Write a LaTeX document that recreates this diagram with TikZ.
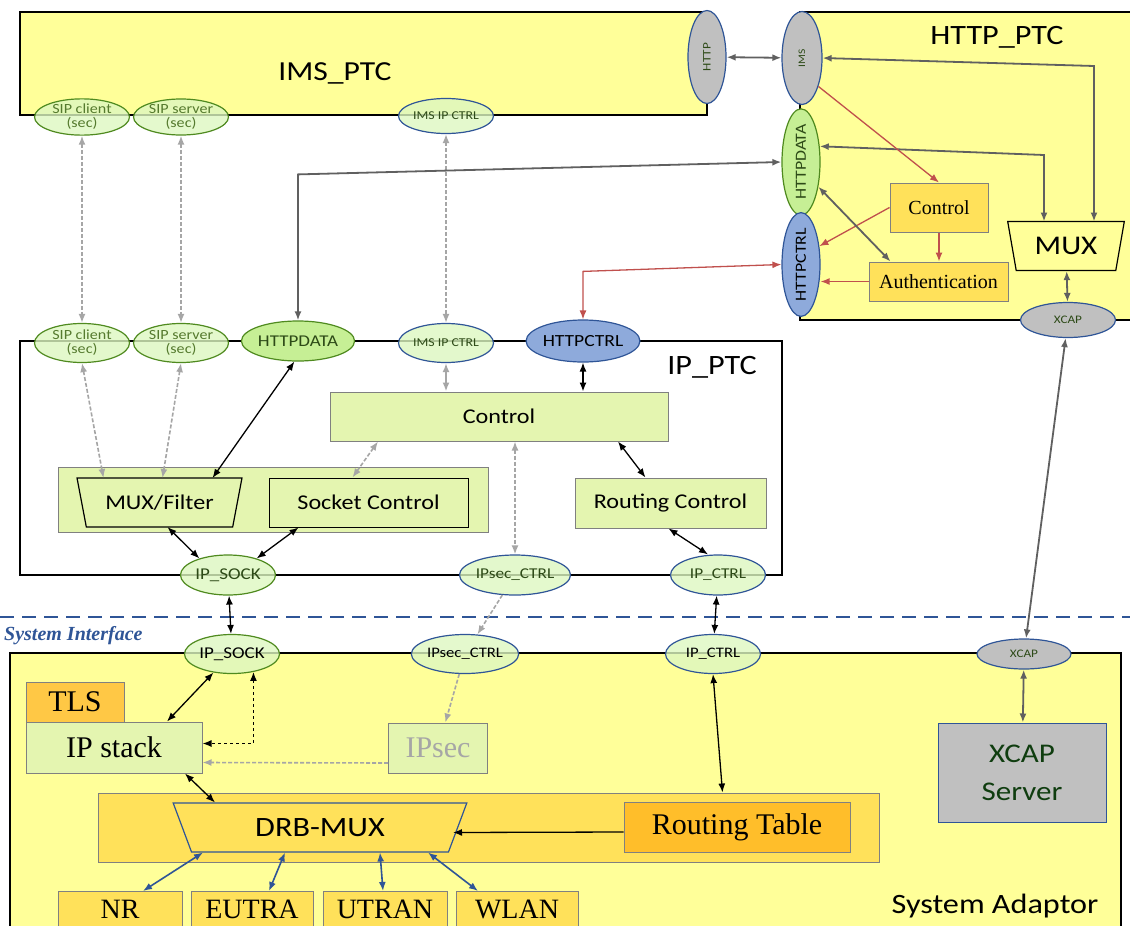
\documentclass[tikz,border=0pt]{standalone}
\usepackage{fontspec}
\setmainfont[FakeStretch=1.15]{Carlito}
\newfontfamily\timesfont{Liberation Serif}
\usetikzlibrary{shapes.geometric,arrows.meta}

\definecolor{boxyellow}{HTML}{FFFF99}
\definecolor{lgreen}{HTML}{E4F5B0}
\definecolor{ifgreen}{HTML}{DDF7C0}
\definecolor{datagreen}{HTML}{C6EF95}
\definecolor{gborder}{HTML}{4F8A1F}
\definecolor{bborder}{HTML}{2F5597}
\definecolor{ctrlblue}{HTML}{8EAADB}
\definecolor{gold}{HTML}{FFE15A}
\definecolor{tlsorange}{HTML}{FFC845}
\definecolor{rtorange}{HTML}{FFBE2A}
\definecolor{xgrey}{HTML}{C0C0C0}
\definecolor{redarr}{HTML}{C0504D}
\definecolor{darkarr}{HTML}{606060}
\definecolor{lightarr}{HTML}{A6A6A6}
\definecolor{txtgreen}{HTML}{2D4A17}
\definecolor{sipgreen}{HTML}{557A2E}
\definecolor{srvgreen}{HTML}{0F3D0F}

\newcommand\setfs[1]{\fontsize{#1}{#1}\selectfont}

\tikzset{
  frame/.style={draw=black, line width=2pt, fill=boxyellow},
  port/.style={ellipse, draw=gborder, line width=1.2pt, fill=ifgreen, fill opacity=0.8, text opacity=1,
    inner sep=0pt, minimum width=95pt, minimum height=38pt, text=txtgreen, font=\setfs{12}, align=center},
  bport/.style={port, draw=bborder},
  vport/.style={ellipse, draw=bborder, line width=1.2pt, fill=xgrey, inner sep=0pt,
    minimum width=38pt, minimum height=93pt, text=txtgreen},
  blk/.style={draw=gray, line width=1pt, fill=lgreen, inner sep=0pt},
  gblk/.style={blk, fill=gold, font=\timesfont\setfs{20}},
  tblk/.style={blk, fill=gold, font=\timesfont\setfs{28}, anchor=north, minimum height=36pt},
  trap/.style={trapezium, shape border rotate=180, trapezium stretches=true, inner sep=0pt, line width=1.2pt},
  dgline/.style={draw=darkarr, line width=1.8pt, <->},
  redline/.style={draw=redarr, line width=1.3pt, ->},
  bkline/.style={draw=black, line width=1.3pt, <->},
  ltline/.style={draw=lightarr, line width=1.6pt, dash pattern=on 4pt off 2pt, <->},
  gsolid/.style={draw=lightarr, line width=2pt, <->},
  blline/.style={draw=bborder, line width=1.6pt, <->}
}

\begin{document}
\begin{tikzpicture}[x=1pt, y=-1pt, >={Latex[length=9pt,width=7pt]}]
\useasboundingbox (0,0) rectangle (1130,926);

% frames
\draw[frame] (20,12) rectangle (707,115);
\node[font=\setfs{27.5}] (imsttl) at (335,73) {IMS\_PTC};
\draw[frame] (800,12) rectangle (1145,320);
\node[font=\setfs{28}] (httpttl) at (997,37) {HTTP\_PTC};
\draw[frame, fill=white] (20,341) rectangle (782,575);
\node[font=\setfs{28}] (ipttl) at (712,367) {IP\_PTC};
\draw[frame, line width=1.6pt] (10,653) rectangle (1121,950);
\node[font=\setfs{28}] (systtl) at (995,906) {System Adaptor};

\draw[bborder, line width=2.5pt, dash pattern=on 14pt off 8pt] (0,617) -- (1130,617);
\node[anchor=west, inner sep=0pt, text=bborder, font=\timesfont\bfseries\itshape\setfs{20}] (sysif) at (4,636) {System Interface};

% IMS_PTC ports
\node[port, text=sipgreen, minimum height=36pt, font=\setfs{14}] (sipcA) at (82,117) {SIP client\\(sec)};
\node[port, text=sipgreen, minimum height=36pt, font=\setfs{14}] (sipsA) at (181,117) {SIP server\\(sec)};
\node[bport, minimum height=35pt] (imsctrlA) at (446,116) {IMS IP CTRL};

% HTTP_PTC
\node[vport, font=\setfs{11.5}] (httpA) at (707,57) {\rotatebox{90}{HTTP}};
\node[vport, minimum width=40pt, font=\setfs{10}] (imsB) at (802,58) {\rotatebox{90}{IMS}};
\node[vport, fill=datagreen, draw=gborder, font=\setfs{15.5}] (httpdataB) at (801,162) {\rotatebox{90}{HTTPDATA}};
\node[vport, fill=ctrlblue, text=black, minimum height=95pt, font=\setfs{15.5}] (httpctrlB) at (801,264.5) {\rotatebox{90}{HTTPCTRL}};
\node[gblk, minimum width=98pt, minimum height=49pt] (hctl) at (939,207.5) {Control};
\node[gblk, minimum width=139pt, minimum height=39pt] (hauth) at (938.5,281.5) {Authentication};
\node[trap, draw=black, fill=boxyellow, trapezium angle=73, minimum width=117pt, minimum height=49pt, font=\setfs{27}] (hmux) at (1066,246) {MUX};
\node[port, fill=xgrey, draw=bborder, fill opacity=1, minimum height=35pt, font=\setfs{11.5}] (xcapA) at (1068,320) {XCAP};

% IP_PTC
\node[port, text=sipgreen, minimum height=39pt, font=\setfs{14}] (sipcB) at (82,343) {SIP client\\(sec)};
\node[port, text=sipgreen, minimum height=39pt, font=\setfs{14}] (sipsB) at (181,343) {SIP server\\(sec)};
\node[port, fill=datagreen, fill opacity=1, minimum width=93pt, minimum height=40pt, font=\setfs{16.5}] (httpdataC) at (298,341) {HTTPDATA};
\node[bport, minimum height=39pt] (imsctrlB) at (446,343) {IMS IP CTRL};
\node[bport, fill=ctrlblue, fill opacity=1, text=black, minimum width=93pt, minimum height=42pt, font=\setfs{17}] (httpctrlC) at (583,341) {HTTPCTRL};
\node[blk, minimum width=338pt, minimum height=49pt, font=\setfs{21}] (ctl) at (499,416.5) {Control};
\node[blk, minimum width=430pt, minimum height=65pt] (sockgrp) at (273,499.5) {};
\node[trap, draw=black, fill=lgreen, trapezium angle=66, minimum width=165pt, minimum height=49pt, font=\setfs{21}] (muxf) at (159.5,502.5) {MUX/Filter};
\node[blk, draw=black, minimum width=199pt, minimum height=49pt, font=\setfs{21}] (sockctl) at (368.5,502.5) {Socket Control};
\node[blk, minimum width=191pt, minimum height=50pt, font=\setfs{21}] (routctl) at (670.5,503) {Routing Control};
\node[port, minimum height=40pt, font=\setfs{16.5}] (ipsockA) at (228,575) {IP\_SOCK};
\node[bport, minimum height=40pt, font=\setfs{15}] (ipsecA) at (515,575) {IPsec\_CTRL};
\node[bport, minimum height=40pt, font=\setfs{15}] (ipctrlA) at (718,575) {IP\_CTRL};

% System Adaptor
\node[port, text=black, minimum height=39pt, font=\setfs{16.5}] (ipsockB) at (232,654) {IP\_SOCK};
\node[bport, text=black, minimum height=39pt, font=\setfs{14.5}] (ipsecB) at (465,654) {IPsec\_CTRL};
\node[bport, text=black, minimum height=39pt, font=\setfs{14.5}] (ipctrlB) at (713,654) {IP\_CTRL};
\node[port, fill=xgrey, draw=bborder, fill opacity=1, minimum width=94pt, minimum height=30pt, font=\setfs{11.5}] (xcapB) at (1024,654) {XCAP};
\node[blk, fill=tlsorange, minimum width=98pt, minimum height=40pt, font=\timesfont\setfs{30}] (tls) at (75,702) {TLS};
\node[blk, minimum width=176pt, minimum height=51pt, font=\timesfont\setfs{30}] (ipstack) at (114,747.5) {IP stack};
\node[blk, text=lightarr, minimum width=99pt, minimum height=50pt, font=\timesfont\setfs{30}] (ipsec) at (438,748) {IPsec};
\node[blk, fill=gold, minimum width=781pt, minimum height=69pt] (drbgrp) at (488.5,827.5) {};
\node[trap, draw=bborder, fill=gold, trapezium angle=63, minimum width=294pt, minimum height=49pt, font=\setfs{28}] (drbmux) at (320,827.5) {DRB-MUX};
\node[blk, fill=rtorange, minimum width=226pt, minimum height=50pt, font=\timesfont\setfs{30}] (routtab) at (737,827) {Routing Table};
\node[blk, fill=xgrey, draw=bborder, text=srvgreen, align=center, minimum width=168pt, minimum height=99pt, font=\fontsize{27}{38}\selectfont] (xcapsrv) at (1022,772.5) {XCAP\\Server};
\node[tblk, minimum width=124pt] (nr) at (120,891) {NR};
\node[tblk, minimum width=122pt] (eutra) at (252,891) {EUTRA};
\node[tblk, minimum width=124pt] (utran) at (385,891) {UTRAN};
\node[tblk, minimum width=122pt] (wlan) at (517,891) {WLAN};

% HTTP_PTC links
\draw[dgline] (httpA) -- (imsB);
\draw[dgline] (imsB.east) -- ([xshift=28pt,yshift=180pt]hmux.center) -- ([xshift=28pt,yshift=24.5pt]hmux.center);
\draw[dgline] (httpdataB.40) -- ([xshift=-22pt,yshift=91pt]hmux.center) -- ([xshift=-22pt,yshift=24.5pt]hmux.center);
\draw[redline] (imsB.-60) -- (hctl.north);
\draw[redline] (hctl.west) -- (httpctrlB.45);
\draw[redline] (hctl.south) -- (hctl.south |- hauth.north);
\draw[redline] (hauth.west) -- (hauth.west -| httpctrlB.east);
\draw[dgline] (httpdataB.-55) -- ([xshift=-48pt]hauth.north);
\draw[dgline] (hmux) -- (xcapA);

% IMS_PTC / HTTP_PTC to IP_PTC
\draw[ltline] (sipcA) -- (sipcB);
\draw[ltline] (sipsA) -- (sipsB);
\draw[ltline] (imsctrlA) -- (imsctrlB);
\draw[dgline] (httpdataC.north) -- ++(0,-146) -- (httpdataB.west);
\draw[redline, <->] (httpctrlC.north) -- ++(0,-48) -- (httpctrlB.west);

% IP_PTC
\draw[ltline] (sipcB.south) -- ([xshift=-56pt,yshift=24.5pt]muxf.center);
\draw[ltline] (sipsB.south) -- ([xshift=3pt,yshift=24.5pt]muxf.center);
\draw[bkline] (httpdataC.-100) -- ([xshift=53pt,yshift=24.5pt]muxf.center);
\draw[gsolid] (imsctrlB.south) -- (imsctrlB.south |- ctl.north);
\draw[bkline] (httpctrlC.south) -- (httpctrlC.south |- ctl.north);
\draw[ltline] ([xshift=-121pt]ctl.south) -- ([xshift=-16pt]sockctl.north);
\draw[ltline] (ipsecA.north |- ctl.south) -- (ipsecA.north);
\draw[bkline] ([xshift=119pt]ctl.south) -- ([xshift=-25pt]routctl.north);
\draw[bkline] ([xshift=-2pt]routctl.south) -- ([xshift=-10pt]ipctrlA.north);
\draw[bkline] ([xshift=8pt,yshift=-24.5pt]muxf.center) -- (ipsockA.150);
\draw[bkline] ([xshift=-70pt]sockctl.south) -- (ipsockA.30);

% system interface
\draw[bkline] (ipsockA) -- (ipsockB);
\draw[ltline, ->] (ipsecA) -- (ipsecB);
\draw[bkline] (ipctrlA) -- (ipctrlB);
\draw[dgline] (xcapA) -- (xcapB);

% System Adaptor
\draw[bkline] (ipsockB.-135) -- ([xshift=53pt]ipstack.north);
\draw[bkline, dashed] (ipsockB.-40) |- ([yshift=4pt]ipstack.east);
\draw[ltline, ->] ([yshift=-15pt]ipsec.west) -- ([yshift=-15pt]ipstack.east);
\draw[ltline, ->] (ipsecB) -- (ipsec);
\draw[bkline] ([xshift=71pt]ipstack.south) -- ([xshift=-105pt,yshift=25pt]drbmux.center);
\draw[bkline] (ipctrlB.south) -- ([xshift=234pt]drbgrp.north);
\draw[bkline, ->] ([yshift=-5pt]routtab.west) -- ([xshift=133pt,yshift=-5pt]drbmux.center);
\draw[blline] ([xshift=-117pt,yshift=-25pt]drbmux.center) -- ([xshift=23pt]nr.north);
\draw[blline] ([xshift=-35pt,yshift=-25pt]drbmux.center) -- ([xshift=17pt]eutra.north);
\draw[blline] ([xshift=60pt,yshift=-25pt]drbmux.center) -- ([xshift=-2pt]utran.north);
\draw[blline] ([xshift=108pt,yshift=-25pt]drbmux.center) -- ([xshift=-39pt]wlan.north);
\draw[dgline] (xcapB) -- (xcapsrv);
\end{tikzpicture}
\end{document}
